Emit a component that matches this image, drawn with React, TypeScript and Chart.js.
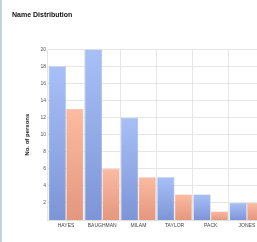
import React, { useEffect, useRef } from "react";
import { Chart, registerables } from "chart.js";

Chart.register(...registerables);

const categories = ["HAYES", "BAUGHMAN", "MILAM", "TAYLOR", "PACK", "JONES"];
const seriesA = [18, 20, 12, 5, 3, 2];
const seriesB = [13, 6, 5, 3, 1, 2];
const yTicks = [2, 4, 6, 8, 10, 12, 14, 16, 18, 20];

function grad(ctx: any, top: string, bottom: string) {
  const chart = ctx.chart;
  const area = chart.chartArea;
  const ys = chart.scales && chart.scales.y;
  if (!area || !ys || ctx.type !== "data") return bottom;
  const v = ctx.raw as number;
  const yTop = ys.getPixelForValue(v);
  const yBot = ys.getPixelForValue(0);
  if (!(yBot > yTop)) return bottom;
  const g = chart.ctx.createLinearGradient(0, yTop, 0, yBot);
  g.addColorStop(0, top);
  g.addColorStop(1, bottom);
  return g;
}

export default function App() {
  const ref = useRef<HTMLCanvasElement | null>(null);
  useEffect(() => {
    if (!ref.current) return;
    const chart = new Chart(ref.current, {
      type: "bar",
      data: {
        labels: categories,
        datasets: [
          {
            label: "A",
            data: seriesA,
            backgroundColor: (c: any) => grad(c, "#a8c0f7", "#7d95d6"),
            borderColor: "#8ea3dc",
            borderWidth: 0.5,
            barPercentage: 0.98,
            categoryPercentage: 0.97,
          },
          {
            label: "B",
            data: seriesB,
            backgroundColor: (c: any) => grad(c, "#fcbba2", "#e3977e"),
            borderColor: "#e2a28c",
            borderWidth: 0.5,
            barPercentage: 0.98,
            categoryPercentage: 0.97,
          },
        ],
      },
      options: {
        responsive: false,
        animation: false,
        layout: { padding: { left: 12, right: 15, top: 0, bottom: 10 } },
        plugins: {
          legend: { display: false },
          tooltip: { enabled: false },
          title: {
            display: true,
            text: "Name Distribution",
            align: "start",
            color: "#111",
            font: { family: "Liberation Sans", size: 7, weight: "bold" },
            padding: { top: 11, bottom: 30 },
          },
        },
        scales: {
          x: {
            grid: { color: "#e6e6e6", drawTicks: false, lineWidth: 1 },
            border: { color: "#e0e0e0" },
            ticks: {
              color: "#444",
              font: { family: "Liberation Sans", size: 5 },
              padding: 3,
              maxRotation: 0,
              autoSkip: false,
            },
          },
          y: {
            min: 0,
            max: 20,
            afterBuildTicks: (axis: any) => {
              axis.ticks = yTicks.map((v) => ({ value: v }));
            },
            grid: { color: "#e6e6e6", drawTicks: false },
            border: { display: false },
            ticks: {
              color: "#555",
              font: { family: "Liberation Sans", size: 5 },
              padding: 2,
            },
            title: {
              display: true,
              text: "No. of persons",
              color: "#222",
              font: { family: "Liberation Sans", size: 6, weight: "bold" },
              padding: { top: 11.4, bottom: 7.8 },
            },
          },
        },
      },
    } as any);
    return () => chart.destroy();
  }, []);
  return (
    <div
      style={{
        position: "absolute",
        left: 0,
        top: 0,
        width: 257,
        height: 242,
        overflow: "hidden",
        background: "#fff",
      }}
    >
      <div
        style={{
          position: "absolute",
          left: 0,
          top: 0,
          width: 2,
          height: 242,
          background: "#c3d3da",
        }}
      />
      <canvas ref={ref} width={280} height={242} style={{ position: "absolute", left: 0, top: 0 }} />
    </div>
  );
}
